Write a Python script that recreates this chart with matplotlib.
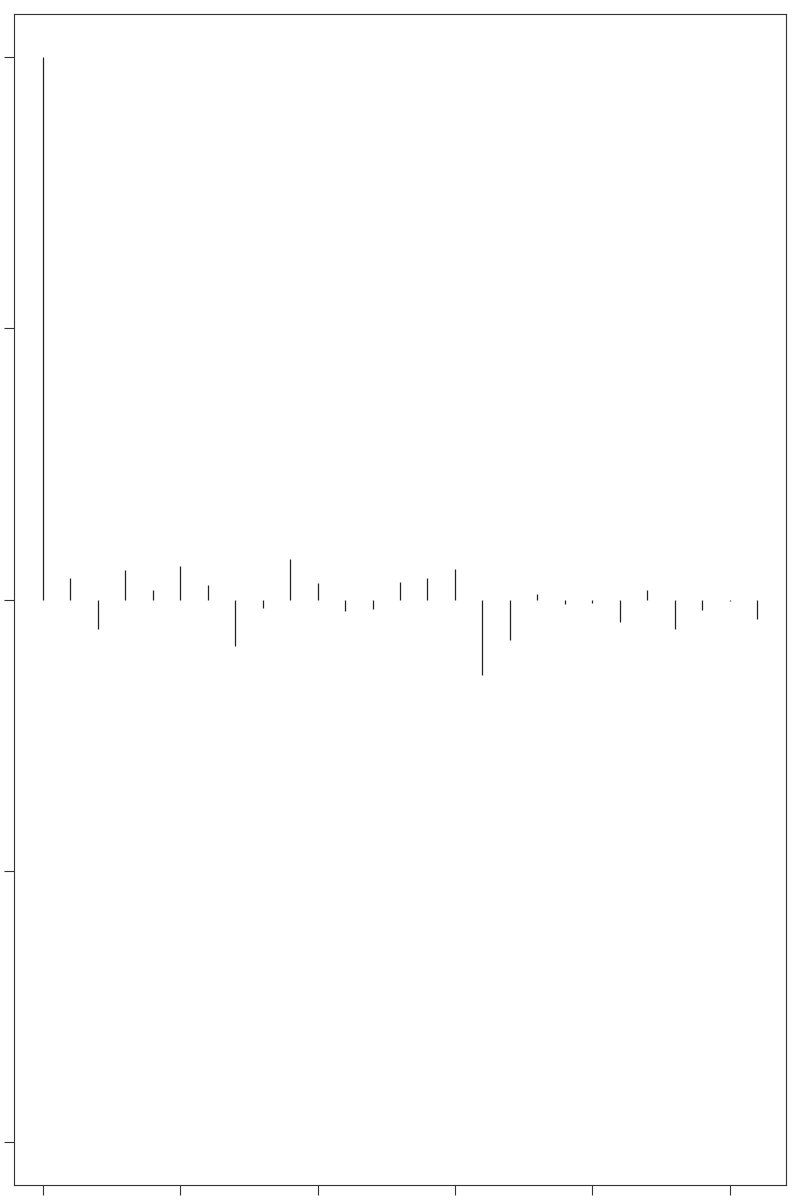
import matplotlib
matplotlib.use("Agg")
import matplotlib.pyplot as plt
import numpy as np

lags = list(range(27))
acf = [1.0, 0.040, -0.054, 0.055, 0.018, 0.061, 0.026, -0.086, -0.016, 0.074,
       0.031, -0.021, -0.018, 0.033, 0.039, 0.057, -0.140, -0.075, 0.010, -0.008,
       -0.006, -0.042, 0.017, -0.055, -0.020, -0.002, -0.036]
xticks = [0, 5, 10, 15, 20, 25]
yticks = [-1.0, -0.5, 0.0, 0.5, 1.0]

fig = plt.figure(figsize=(8, 12), dpi=100)
ax = fig.add_axes([14/800, 15/1200, 772/800, 1171/1200])
ax.vlines(lags, 0, acf, colors="#222222", linewidth=0.9)
ax.set_xlim(-1.04, 27.04)
ax.set_ylim(-1.08, 1.08)
ax.set_xticks(xticks)
ax.set_yticks(yticks)
ax.set_xticklabels([])
ax.set_yticklabels([])
ax.tick_params(direction="out", length=7, width=0.8, color="#333333")
for s in ax.spines.values():
    s.set_linewidth(0.8)
    s.set_color("#333333")
fig.savefig("out.png", dpi=100)
